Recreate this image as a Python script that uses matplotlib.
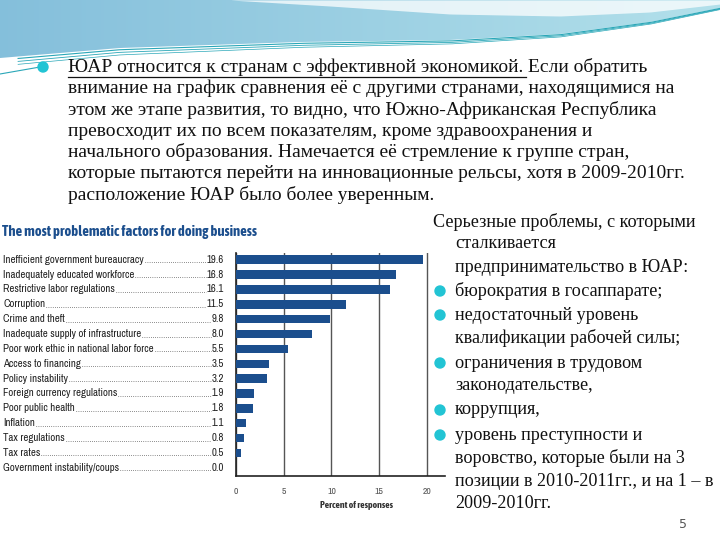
import numpy as np
import matplotlib.pyplot as plt
from matplotlib import font_manager
from matplotlib.patches import Polygon, Circle
from matplotlib.transforms import blended_transform_factory

# chart data
factors = [
    "Inefficient government bureaucracy",
    "Inadequately educated workforce",
    "Restrictive labor regulations",
    "Corruption",
    "Crime and theft",
    "Inadequate supply of infrastructure",
    "Poor work ethic in national labor force",
    "Access to financing",
    "Policy instability",
    "Foreign currency regulations",
    "Poor public health",
    "Inflation",
    "Tax regulations",
    "Tax rates",
    "Government instability/coups",
]
values = [19.6, 16.8, 16.1, 11.5, 9.8, 8.0, 5.5, 3.5, 3.2, 1.9, 1.8, 1.1, 0.8, 0.5, 0.0]
ticks = [0, 5, 10, 15, 20]

chart_title = "The most problematic factors for doing business"
x_label = "Percent of responses"

intro_first = "ЮАР относится к странам с эффективной экономикой."
intro_first_rest = " Если обратить"
intro_lines = [
    "внимание на график сравнения её с другими странами, находящимися на",
    "этом же этапе развития, то видно, что Южно-Африканская Республика",
    "превосходит их по всем показателям, кроме здравоохранения и",
    "начального образования. Намечается её стремление к группе стран,",
    "которые пытаются перейти на инновационные рельсы, хотя в 2009-2010гг.",
    "расположение ЮАР было более уверенным.",
]

# (text, bullet?)
side_lines = [
    ("Серьезные проблемы, с которыми", None),
    ("сталкивается", False),
    ("предпринимательство в ЮАР:", False),
    ("бюрократия в госаппарате;", True),
    ("недостаточный уровень", True),
    ("квалификации рабочей силы;", False),
    ("ограничения в трудовом", True),
    ("законодательстве,", False),
    ("коррупция,", True),
    ("уровень преступности и", True),
    ("воровство, которые были на 3", False),
    ("позиции в 2010-2011гг., и на 1 – в", False),
    ("2009-2010гг.", False),
]
side_y = [222, 244, 267, 291, 315, 338, 363, 386, 410, 435, 458, 481, 504]

blue = "#1b4e8d"
cyan = "#22c4d4"
serif = ["Liberation Serif", "DejaVu Serif"]


def wnum(w):
    if isinstance(w, str):
        return font_manager.weight_dict.get(w, 400)
    return w


# pick a condensed sans if one is around, one with a bold face first
narrow_fonts = [f for f in font_manager.fontManager.ttflist
                if "Narrow" in f.name or "Condensed" in f.name]
names = sorted({f.name for f in narrow_fonts})
bold_names = sorted({f.name for f in narrow_fonts if wnum(f.weight) >= 600})
narrow = names[:1] + ["Liberation Sans", "DejaVu Sans"]
lab_size = 7.8 if names else 6.6
if bold_names:
    narrow_b = bold_names[:1] + ["Liberation Sans", "DejaVu Sans"]
    title_size, xl_size = 10.5, 7
else:
    narrow_b = ["Liberation Sans", "DejaVu Sans"]
    title_size, xl_size = 8.0, 5.6

fig = plt.figure(figsize=(7.2, 5.4), dpi=100)
bg = fig.add_axes([0, 0, 1, 1])
bg.set_xlim(0, 720)
bg.set_ylim(540, 0)
bg.axis("off")

# header wave
xs = np.linspace(0, 720, 200)
edge = np.interp(xs, [0, 120, 300, 450, 560, 650, 720], [58, 48, 42, 40, 34, 22, 8])
poly = Polygon(np.column_stack([np.r_[0, xs, 720], np.r_[0, edge, 0]]), closed=True,
               facecolor="none", edgecolor="none")
bg.add_patch(poly)
grad = np.linspace(0, 1, 256)
cols = np.zeros((1, 256, 3))
c0 = np.array([0.52, 0.75, 0.86])
c1 = np.array([0.70, 0.88, 0.92])
for i in range(3):
    cols[0, :, i] = c0[i] + (c1[i] - c0[i]) * grad
im = bg.imshow(cols, extent=[0, 720, 70, 0], aspect="auto", zorder=0)
im.set_clip_path(poly)
band_bot = np.interp(xs, [230, 330, 450, 560, 650, 720], [0, 6, 14, 16, 12, 4])
m = xs >= 230
bg.fill_between(xs[m], 0, band_bot[m], color="white", alpha=0.75, lw=0, zorder=1)
for off, lw in [(2, 0.8), (5, 0.6), (8, 0.5)]:
    yy = edge + off * (1 - xs / 900)
    mm = xs > 15
    bg.plot(xs[mm], yy[mm], color="#2aa7b8", lw=lw, zorder=2)
bg.plot([0, 40], [74, 67], color="#2aa7b8", lw=0.8, zorder=2)
bg.add_patch(Circle((43, 67), 5, color=cyan, zorder=3))

# intro paragraph
t0 = bg.text(68, 67, intro_first, fontsize=14, family=serif, va="center", color="#111")
fig.canvas.draw()
r = fig.canvas.get_renderer()
bb = bg.transData.inverted().transform(t0.get_window_extent(r))
bg.text(bb[1][0], 67, intro_first_rest, fontsize=14, family=serif, va="center", color="#111")
bg.plot([bb[0][0], bb[1][0] + 3], [77, 77], color="#111", lw=0.9)
for i, line in enumerate(intro_lines):
    bg.text(68, 88.5 + i * 21.3, line, fontsize=14, family=serif, va="center", color="#111")

# side text
for (txt, bul), y in zip(side_lines, side_y):
    x = 433 if bul is None else 455
    bg.text(x, y, txt, fontsize=13.1, family=serif, va="center", color="#111")
    if bul:
        bg.add_patch(Circle((440, y), 5, color=cyan, zorder=5))

bg.text(683, 524, "5", fontsize=9, color="#555", va="center", ha="center")

# chart
ax = fig.add_axes([236 / 720, 1 - 476 / 540, 209 / 720, 223 / 540])
ax.patch.set_visible(False)
rows = np.arange(len(values))
ax.barh(rows, values, height=0.57, color=blue, zorder=3)
ax.set_ylim(14.55, -0.45)
ax.set_xlim(0, 21.9)
ax.set_xticks(ticks)
ax.set_xticklabels([str(t) for t in ticks], family=narrow, fontsize=7, color="#555")
ax.set_yticks([])
ax.tick_params(axis="x", length=0, pad=8)
ax.xaxis.grid(True, color="#555", lw=1)
ax.set_axisbelow(True)
for s in ["top", "right"]:
    ax.spines[s].set_visible(False)
ax.spines["left"].set_color("#222")
ax.spines["bottom"].set_color("#222")
ax.spines["left"].set_linewidth(1.2)
ax.spines["bottom"].set_linewidth(1.2)
ax.set_xlabel(x_label, family=narrow_b, fontsize=xl_size, fontweight="bold", color="#333")
ax.xaxis.set_label_coords(0.575, -0.11)

bg.text(2, 232, chart_title, fontsize=title_size, family=narrow_b, fontweight="bold", color=blue,
        va="center")

tr = blended_transform_factory(bg.transData, ax.transData)
lab_texts = []
for i, (f, v) in enumerate(zip(factors, values)):
    a = bg.text(3, i, f, transform=tr, fontsize=lab_size, family=narrow, va="center", color="#222")
    b = bg.text(224, i, f"{v:.1f}", transform=tr, fontsize=lab_size, family=narrow, va="center",
                ha="right", color="#222")
    lab_texts.append((a, b))

fig.canvas.draw()
r = fig.canvas.get_renderer()
inv = bg.transData.inverted()
for a, b in lab_texts:
    ea = a.get_window_extent(r)
    eb = b.get_window_extent(r)
    p0 = inv.transform((ea.x1 + 1, ea.y0 + 2.5))
    p1 = inv.transform((eb.x0 - 1, ea.y0 + 2.5))
    bg.plot([p0[0], p1[0]], [p0[1], p1[1]], color="#444", lw=0.7, ls=(0, (0.6, 1.6)))

fig.savefig("out.png", dpi=100)
